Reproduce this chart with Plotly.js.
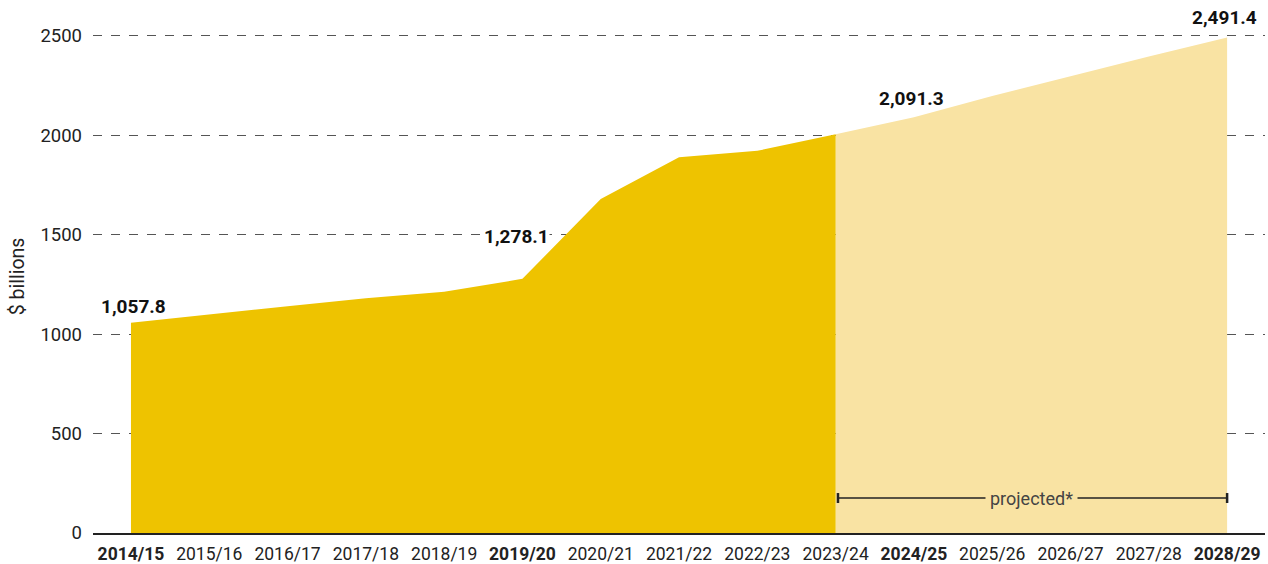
<!DOCTYPE html>
<html>
<head>
<meta charset="utf-8">
<script src="https://cdn.plot.ly/plotly-3.0.1.min.js"></script>
<style>html,body{margin:0;padding:0;background:#fff;}#chart{width:1268px;height:564px;}</style>
</head>
<body>
<div id="chart"></div>
<script>
// Fiscal years
const years = ["2014/15","2015/16","2016/17","2017/18","2018/19","2019/20","2020/21","2021/22","2022/23","2023/24","2024/25","2025/26","2026/27","2027/28","2028/29"];
// Actual values ($ billions)
const actualYears = ["2014/15","2015/16","2016/17","2017/18","2018/19","2019/20","2020/21","2021/22","2022/23","2023/24"];
const actualValues = [1057.8, 1100, 1140, 1180, 1213, 1278.1, 1680, 1890, 1922, 2005];
// Projected values ($ billions)
const projYears = ["2023/24","2024/25","2025/26","2026/27","2027/28","2028/29"];
const projValues = [2005, 2091.3, 2198, 2298, 2396, 2491.4];
// Highlighted years (bold tick labels + value labels)
const highlightYears = ["2014/15","2019/20","2024/25","2028/29"];
const highlightLabels = ["1,057.8","1,278.1","2,091.3","2,491.4"];
const yTicks = [0, 500, 1000, 1500, 2000, 2500];
const bracketText = "projected*";

const tickText = years.map(y => highlightYears.includes(y) ? "<b>" + y + "</b>" : y);

function valueOf(year) {
  let i = actualYears.indexOf(year);
  if (i >= 0) return actualValues[i];
  i = projYears.indexOf(year);
  return projValues[i];
}

const traces = [
  {
    x: projYears, y: projValues, type: "scatter", mode: "lines",
    fill: "tozeroy", fillcolor: "#F9E3A3",
    line: {width: 0, color: "#F9E3A3"}, hoverinfo: "skip", showlegend: false
  },
  {
    x: actualYears, y: actualValues, type: "scatter", mode: "lines",
    fill: "tozeroy", fillcolor: "#EEC300",
    line: {width: 0, color: "#EEC300"}, hoverinfo: "skip", showlegend: false
  }
];

const labelShifts = [16, 42, 19, 20];
const labelXShifts = [3, -6, -2, -3];
const annotations = highlightYears.map((y, i) => ({
  x: y, y: valueOf(y), xref: "x", yref: "y",
  text: "<b>" + highlightLabels[i] + "</b>",
  showarrow: false, xanchor: "center", yanchor: "middle",
  yshift: labelShifts[i], xshift: labelXShifts[i],
  font: {family: "Roboto, sans-serif", size: 19, color: "#111"},
  bgcolor: i === 1 ? "#ffffff" : "rgba(0,0,0,0)", borderpad: 0
}));

const bStart = years.indexOf("2023/24");
const bEnd = years.indexOf("2028/29");
const bY = 176;
annotations.push({
  x: (bStart + bEnd) / 2, y: bY, xref: "x", yref: "y",
  text: bracketText, showarrow: false, xanchor: "center", yanchor: "middle",
  font: {family: "Roboto, sans-serif", size: 18, color: "#444"},
  bgcolor: "#F9E3A3", borderpad: 4
});

const shapes = [
  {type: "line", xref: "x", yref: "y", x0: bStart + 0.03, x1: bEnd, y0: bY, y1: bY, line: {color: "#222", width: 1.4}},
  {type: "line", xref: "x", yref: "y", x0: bStart + 0.03, x1: bStart + 0.03, y0: bY - 25, y1: bY + 25, line: {color: "#222", width: 2.5}},
  {type: "line", xref: "x", yref: "y", x0: bEnd, x1: bEnd, y0: bY - 25, y1: bY + 25, line: {color: "#222", width: 2.5}}
];

const layout = {
  width: 1268, height: 564,
  margin: {l: 93, r: 3, t: 20, b: 31},
  paper_bgcolor: "#fff", plot_bgcolor: "#fff",
  showlegend: false,
  font: {family: "Roboto, sans-serif", color: "#222"},
  xaxis: {
    type: "category", categoryorder: "array", categoryarray: years,
    tickvals: years, ticktext: tickText,
    range: [-0.485, 14.484],
    showgrid: false, zeroline: false,
    showline: true, linecolor: "#222", linewidth: 1.5,
    ticks: "", ticklabelstandoff: 4,
    tickfont: {family: "Roboto, sans-serif", size: 17.5, color: "#222"},
    automargin: false, fixedrange: true
  },
  yaxis: {
    range: [0, 2580], tickvals: yTicks, ticktext: yTicks.map(String),
    showgrid: true, gridcolor: "#555", gridwidth: 1, griddash: "9px,9px",
    zeroline: false, showline: false, ticks: "", ticklabelstandoff: 10,
    tickfont: {family: "Roboto, sans-serif", size: 18.5, color: "#222"},
    title: {text: "$ billions", standoff: 10, font: {family: "Roboto, sans-serif", size: 19.5, color: "#222"}},
    automargin: false, fixedrange: true
  },
  annotations: annotations,
  shapes: shapes
};

Plotly.newPlot("chart", traces, layout, {displayModeBar: false, staticPlot: true});
</script>
</body>
</html>
